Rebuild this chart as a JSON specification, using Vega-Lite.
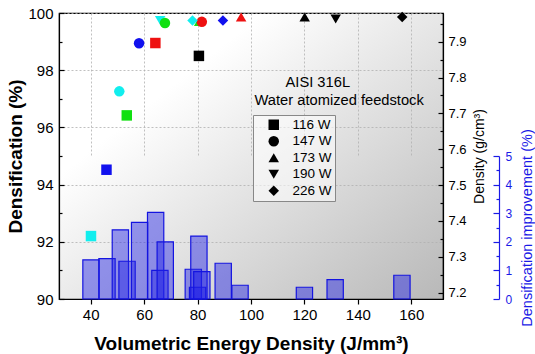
{
  "$schema": "https://vega.github.io/schema/vega-lite/v6.json",
  "width": 384,
  "height": 286,
  "autosize": {"type": "none"},
  "padding": {"left": 59, "top": 13, "right": 92, "bottom": 55},
  "background": "white",
  "config": {
    "font": "Liberation Sans",
    "view": {
      "stroke": "black",
      "strokeWidth": 1.2,
      "fill": {"gradient": "linear", "x1": 0.25, "y1": 0.3, "x2": 1, "y2": 1,
        "stops": [{"offset": 0, "color": "#ffffff"}, {"offset": 1, "color": "#b8b8b8"}]}
    },
    "axis": {
      "domainColor": "black", "tickColor": "black", "labelColor": "black", "titleColor": "black",
      "gridColor": "#b0b0b0", "gridDash": [2, 2], "gridWidth": 0.8,
      "labelFont": "Liberation Sans", "titleFont": "Liberation Sans", "domainWidth": 1.2, "tickWidth": 1.2
    },
    "axisX": {
      "values": [40, 60, 80, 100, 120, 140, 160], "tickSize": 5, "labelPadding": 3,
      "labelFontSize": 15, "grid": true,
      "titleFontSize": 19, "titleFontWeight": "bold", "titlePadding": 12
    }
  },
  "resolve": {"scale": {"y": "independent"}, "axis": {"y": "independent"}},
  "layer": [
    {
      "data": {"values": [
        {"x": 40.1, "imp": 1.37}, {"x": 46.1, "imp": 1.41}, {"x": 51.1, "imp": 2.42},
        {"x": 53.6, "imp": 1.32}, {"x": 58.3, "imp": 2.68}, {"x": 64.3, "imp": 3.03},
        {"x": 65.9, "imp": 1.0}, {"x": 67.9, "imp": 2.0}, {"x": 78.4, "imp": 1.04},
        {"x": 80.5, "imp": 2.2}, {"x": 80.0, "imp": 0.41}, {"x": 81.6, "imp": 0.96},
        {"x": 89.6, "imp": 1.25}, {"x": 95.9, "imp": 0.48}, {"x": 120.0, "imp": 0.41},
        {"x": 131.5, "imp": 0.68}, {"x": 156.5, "imp": 0.83}
      ]},
      "mark": {"type": "bar", "size": 16.3, "fill": "#2222e6", "fillOpacity": 0.45, "stroke": "#1414e0", "strokeWidth": 1.2},
      "encoding": {
        "x": {"field": "x", "type": "quantitative", "scale": {"domain": [30, 170], "nice": false, "zero": false},
          "title": "Volumetric Energy Density (J/mm³)"},
        "y": {"field": "imp", "type": "quantitative",
          "scale": {"domain": [0, 5], "range": [286, 143], "nice": false},
          "axis": {"orient": "right", "offset": 56, "values": [0, 1, 2, 3, 4, 5], "tickSize": -6,
            "labelPadding": 12, "labelFontSize": 12, "grid": false,
            "domainColor": "#1a1ae6", "tickColor": "#1a1ae6", "labelColor": "#1a1ae6", "titleColor": "#1a1ae6",
            "title": "Densification improvement (%)", "titleAngle": 270, "titleFontWeight": "normal",
            "titleAlign": "center", "titleAnchor": "middle", "titleBaseline": "bottom",
            "titleFontSize": 14.5, "titlePadding": 23}}
      }
    },
    {
      "data": {"values": [{}]},
      "mark": {"type": "point", "opacity": 0},
      "encoding": {
        "y": {"datum": 2.5, "type": "quantitative",
          "scale": {"domain": [0, 5], "range": [286, 143], "nice": false},
          "axis": {"orient": "right", "offset": 56, "values": [0.5, 1.5, 2.5, 3.5, 4.5], "tickSize": -3,
            "labels": false, "domain": false, "grid": false, "title": null, "tickColor": "#1a1ae6"}}
      }
    },
    {
      "data": {"values": [{}]},
      "mark": {"type": "point", "opacity": 0},
      "encoding": {
        "x": {"datum": 100, "type": "quantitative", "scale": {"domain": [30, 170], "nice": false, "zero": false},
          "title": "Volumetric Energy Density (J/mm³)"},
        "y": {"datum": 7.5, "type": "quantitative",
          "scale": {"domain": [7.182, 7.98], "nice": false, "zero": false},
          "axis": {"orient": "right", "values": [7.2, 7.3, 7.4, 7.5, 7.6, 7.7, 7.8, 7.9], "format": ".1f",
            "tickSize": -5, "labelPadding": 10, "labelFontSize": 13, "grid": false,
            "title": "Density (g/cm³)", "titleAngle": 270, "titleFontWeight": "normal", "titleFontSize": 14, "titlePadding": 20}}
      }
    },
    {
      "data": {"values": [{}]},
      "mark": {"type": "point", "opacity": 0},
      "encoding": {
        "y": {"datum": 7.5, "type": "quantitative",
          "scale": {"domain": [7.182, 7.98], "nice": false, "zero": false},
          "axis": {"orient": "right", "values": [7.25, 7.35, 7.45, 7.55, 7.65, 7.75, 7.85, 7.95], "tickSize": -3,
            "labels": false, "domain": false, "grid": false, "title": null}}
      }
    },
    {
      "data": {"values": [{}]},
      "mark": {"type": "point", "opacity": 0},
      "encoding": {
        "y": {"datum": 95, "type": "quantitative",
          "scale": {"domain": [90, 100], "nice": false, "zero": false},
          "axis": {"orient": "left", "values": [91, 93, 95, 97, 99], "tickSize": -3,
            "labels": false, "domain": false, "grid": false, "title": null}}
      }
    },
    {
      "data": {"values": [
        {"x": 80.5, "dens": 98.5, "power": "116 W", "set": "A"},
        {"x": 120.1, "dens": 99.86, "power": "173 W", "set": "A"},
        {"x": 131.7, "dens": 99.79, "power": "190 W", "set": "A"},
        {"x": 156.6, "dens": 99.86, "power": "226 W", "set": "A"},
        {"x": 64.2, "dens": 98.95, "power": "116 W", "set": "B"},
        {"x": 80.6, "dens": 99.7, "power": "173 W", "set": "C"},
        {"x": 81.6, "dens": 99.69, "power": "147 W", "set": "B"},
        {"x": 96.3, "dens": 99.86, "power": "173 W", "set": "B"},
        {"x": 53.5, "dens": 96.42, "power": "116 W", "set": "C"},
        {"x": 66.0, "dens": 99.74, "power": "190 W", "set": "D"},
        {"x": 67.8, "dens": 99.65, "power": "147 W", "set": "C"},
        {"x": 40.1, "dens": 92.2, "power": "116 W", "set": "D"},
        {"x": 50.7, "dens": 97.26, "power": "147 W", "set": "D"},
        {"x": 78.1, "dens": 99.74, "power": "226 W", "set": "D"},
        {"x": 45.9, "dens": 94.52, "power": "116 W", "set": "E"},
        {"x": 58.1, "dens": 98.94, "power": "147 W", "set": "E"},
        {"x": 89.5, "dens": 99.74, "power": "226 W", "set": "E"}
      ]},
      "mark": {"type": "point", "filled": true, "size": 110, "opacity": 1},
      "encoding": {
        "x": {"field": "x", "type": "quantitative",
          "scale": {"domain": [30, 170], "nice": false, "zero": false},
          "title": "Volumetric Energy Density (J/mm³)"},
        "y": {"field": "dens", "type": "quantitative",
          "scale": {"domain": [90, 100], "nice": false, "zero": false},
          "axis": {"orient": "left", "values": [90, 92, 94, 96, 98, 100], "tickSize": -5, "labelPadding": 11,
            "labelFontSize": 15, "grid": true, "title": "Densification (%)",
            "titleFontSize": 19, "titleFontWeight": "bold", "titlePadding": 2}},
        "shape": {"field": "power", "type": "nominal",
          "scale": {"domain": ["116 W", "147 W", "173 W", "190 W", "226 W"],
            "range": ["square", "circle", "triangle-up", "triangle-down", "diamond"]},
          "legend": {"orient": "none", "legendX": 194, "legendY": 102, "title": null, "padding": 3,
            "strokeColor": "#888888", "fillColor": "rgba(255,255,255,0.55)", "symbolSize": 110,
            "symbolOffset": 11, "labelOffset": 12, "labelFontSize": 13.5, "rowPadding": 1.5,
            "symbolFillColor": "black", "symbolStrokeWidth": 0, "labelColor": "black"}},
        "color": {"field": "set", "type": "nominal",
          "scale": {"domain": ["A", "B", "C", "D", "E"],
            "range": ["#000000", "#ee1111", "#11e011", "#11eeee", "#1111ee"]},
          "legend": null}
      }
    },
    {
      "data": {"values": [
        {"label": "AISI 316L", "x": 125.0, "y": 97.55},
        {"label": "Water atomized feedstock", "x": 133.0, "y": 96.92}
      ]},
      "mark": {"type": "text", "fontSize": 14.7, "align": "center", "baseline": "middle", "color": "black"},
      "encoding": {
        "x": {"field": "x", "type": "quantitative", "scale": {"domain": [30, 170], "nice": false, "zero": false},
          "title": "Volumetric Energy Density (J/mm³)"},
        "y": {"field": "y", "type": "quantitative", "scale": {"domain": [90, 100], "nice": false, "zero": false}, "axis": null},
        "text": {"field": "label"}
      }
    }
  ]
}
